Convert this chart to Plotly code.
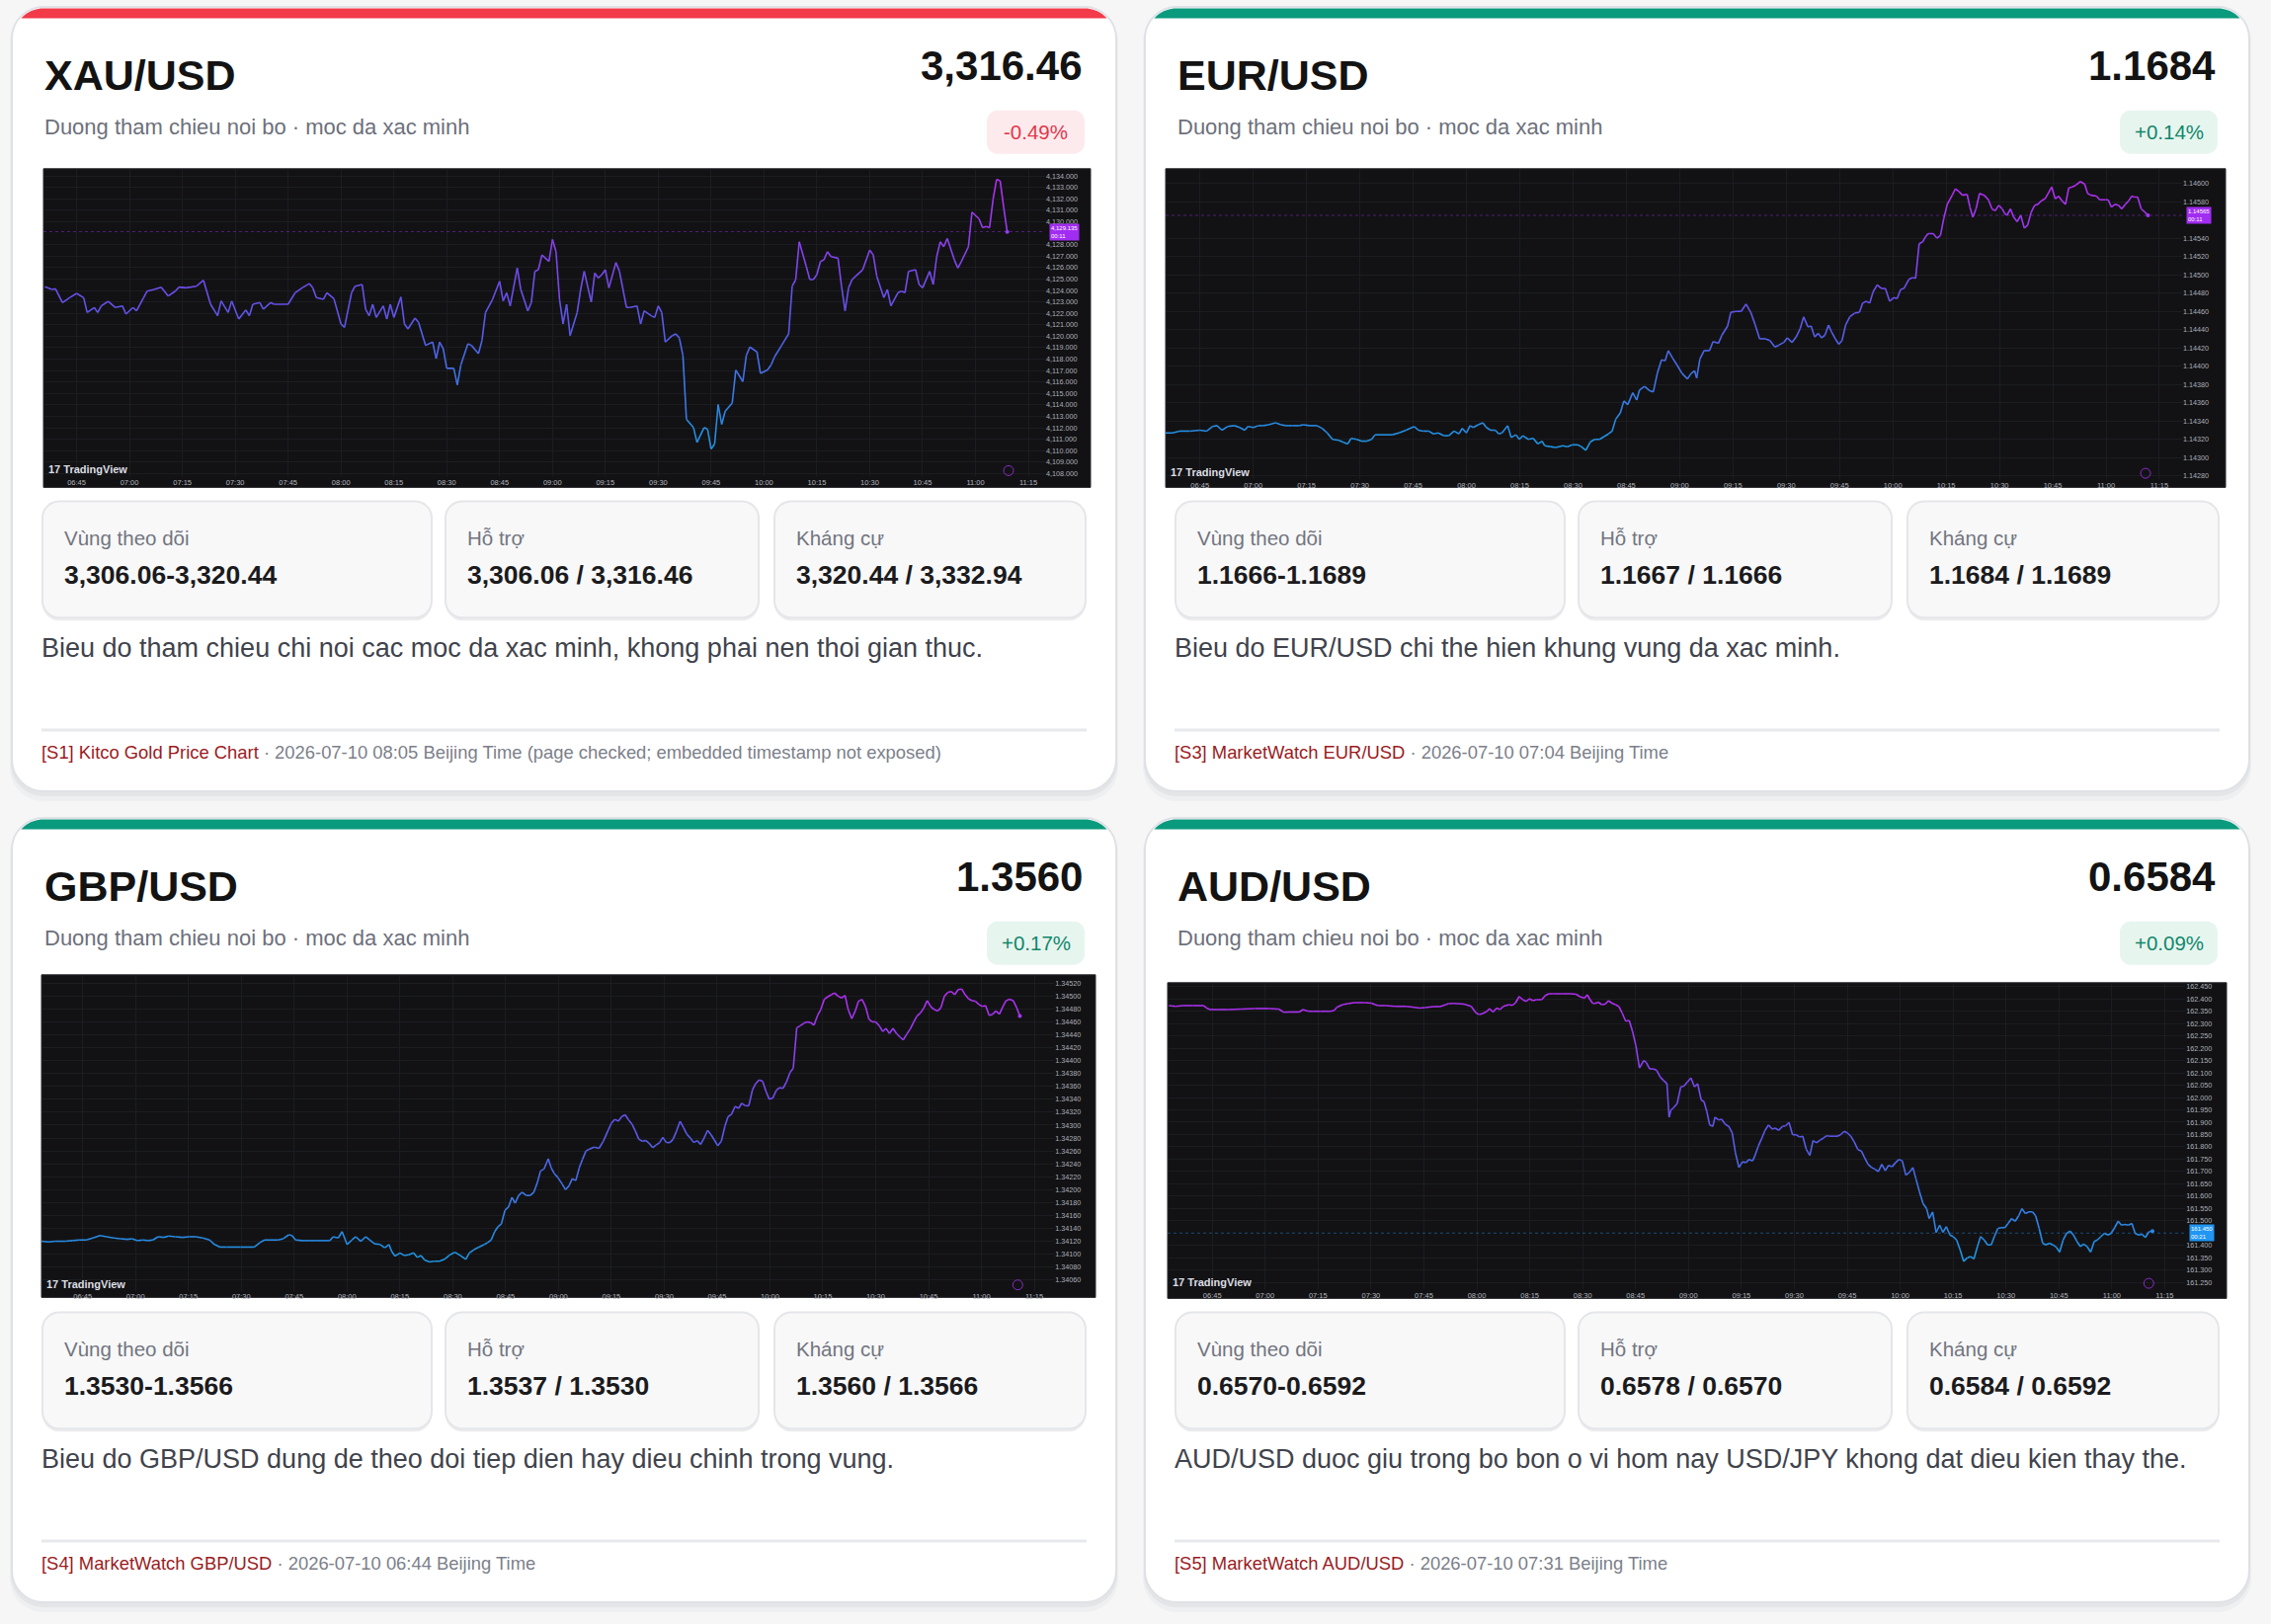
import math
import plotly.graph_objects as go

W, H = 2299, 1644
FONT = "Liberation Sans, Arial, Helvetica, sans-serif"

# ---------------- data ----------------
PAIRS = ["XAU/USD", "EUR/USD", "GBP/USD", "AUD/USD"]
PRICES = ["3,316.46", "1.1684", "1.3560", "0.6584"]
CHANGES = ["-0.49%", "+0.14%", "+0.17%", "+0.09%"]
SUBTITLE = "Duong tham chieu noi bo · moc da xac minh"
BOX_LABELS = ["Vùng theo dõi", "Hỗ trợ", "Kháng cự"]
ZONES = ["3,306.06-3,320.44", "1.1666-1.1689", "1.3530-1.3566", "0.6570-0.6592"]
SUPPORTS = ["3,306.06 / 3,316.46", "1.1667 / 1.1666", "1.3537 / 1.3530", "0.6578 / 0.6570"]
RESISTANCES = ["3,320.44 / 3,332.94", "1.1684 / 1.1689", "1.3560 / 1.3566", "0.6584 / 0.6592"]
NOTES = [
    "Bieu do tham chieu chi noi cac moc da xac minh, khong phai nen thoi gian thuc.",
    "Bieu do EUR/USD chi the hien khung vung da xac minh.",
    "Bieu do GBP/USD dung de theo doi tiep dien hay dieu chinh trong vung.",
    "AUD/USD duoc giu trong bo bon o vi hom nay USD/JPY khong dat dieu kien thay the.",
]
SOURCES = ["[S1] Kitco Gold Price Chart", "[S3] MarketWatch EUR/USD",
           "[S4] MarketWatch GBP/USD", "[S5] MarketWatch AUD/USD"]
STAMPS = ["2026-07-10 08:05 Beijing Time (page checked; embedded timestamp not exposed)",
          "2026-07-10 07:04 Beijing Time", "2026-07-10 06:44 Beijing Time",
          "2026-07-10 07:31 Beijing Time"]
TIME_TICKS = ["06:45", "07:00", "07:15", "07:30", "07:45", "08:00", "08:15", "08:30", "08:45",
              "09:00", "09:15", "09:30", "09:45", "10:00", "10:15", "10:30", "10:45", "11:00", "11:15"]
LAST_LABELS = ["4,129.135", "1.14565", "1.14470", "161.450"]
LAST_VALUES = [4129.135, 1.14565, 1.14470, 161.450]
COUNTDOWNS = ["00:11", "00:11", "00:45", "00:21"]
SERIES_START = ["06:36", "06:35", "06:35", "06:35"]

# (minutes after series start, price)
XAU_PTS = [(0,4124.32),(2,4124.09),(3,4124.14),(5,4122.94),(7,4123.37),(9,4123.74),(11,4123.37),(12,4122.07),(14,4122.51),(15,4122.07),(16,4122.65),(18,4123.05),(20,4122.51),(22,4122.65),(23,4121.93),(25,4122.51),(26,4122.22),(28,4123.37),(29,4123.94),(31,4124.09),(33,4124.29),(35,4123.51),(37,4123.94),(38,4124.29),(40,4124.23),(43,4124.37),(45,4124.89),(47,4122.79),(49,4121.79),(50,4123.08),(52,4122.07),(53,4123.08),(55,4121.50),(57,4122.30),(58,4121.79),(59,4122.79),(61,4122.94),(62,4122.36),(64,4122.94),(65,4122.79),(68,4122.79),(69,4122.79),(71,4123.80),(73,4124.23),(75,4124.60),(76,4124.23),(77,4123.37),(79,4123.22),(80,4123.80),(82,4123.28),(84,4121.07),(85,4120.78),(87,4123.80),(88,4124.37),(90,4124.52),(91,4122.36),(92,4121.79),(93,4122.79),(94,4121.64),(96,4122.65),(97,4121.50),(98,4122.79),(99,4121.64),(101,4123.43),(102,4121.07),(103,4120.64),(105,4121.59),(106,4121.21),(108,4119.20),(110,4119.49),(111,4118.05),(112,4119.49),(113,4118.91),(114,4117.19),(116,4117.19),(117,4115.75),(118,4117.48),(120,4119.34),(121,4119.20),(123,4118.48),(124,4119.63),(125,4122.07),(127,4123.22),(129,4124.80),(130,4123.08),(131,4123.80),(132,4122.65),(134,4125.95),(135,4124.09),(137,4122.22),(138,4122.94),(139,4125.67),(140,4125.81),(141,4127.10),(143,4126.53),(144,4128.45),(145,4127.39),(146,4123.22),(147,4121.07),(148,4122.79),(149,4120.06),(151,4122.07),(152,4124.09),(153,4125.67),(155,4122.99),(156,4125.52),(157,4125.09),(158,4125.38),(159,4125.81),(160,4124.23),(162,4126.44),(163,4125.67),(165,4122.51),(166,4122.51),(168,4122.65),(169,4121.07),(170,4122.22),(172,4121.79),(173,4121.64),(174,4122.65),(175,4122.07),(176,4119.49),(178,4120.06),(179,4120.21),(180,4119.83),(181,4118.34),(182,4112.74),(184,4112.02),(185,4110.72),(187,4112.02),(188,4111.87),(189,4110.15),(190,4110.58),(191,4114.03),(192,4112.30),(193,4113.45),(195,4114.17),(196,4117.05),(198,4116.04),(199,4118.34),(200,4119.06),(202,4118.63),(203,4116.76),(205,4117.05),(206,4117.48),(207,4118.20),(209,4119.20),(211,4120.21),(212,4124.37),(213,4124.95),(214,4128.25),(216,4126.10),(217,4124.95),(218,4124.95),(219,4125.38),(220,4126.53),(221,4126.67),(222,4127.39),(223,4126.96),(225,4126.82),(226,4124.37),(227,4122.22),(228,4124.23),(229,4124.95),(230,4125.24),(232,4125.81),(234,4127.53),(235,4127.10),(236,4125.24),(238,4123.37),(239,4124.09),(240,4122.65),(242,4123.80),(243,4123.94),(244,4123.80),(245,4125.67),(247,4125.81),(248,4124.52),(249,4124.23),(251,4125.67),(252,4124.52),(253,4126.96),(254,4128.25),(255,4127.82),(256,4128.54),(258,4126.67),(259,4125.95),(260,4126.53),(262,4127.82),(263,4130.84),(265,4130.26),(266,4129.49),(267,4129.60),(268,4129.49),(269,4131.99),(270,4133.71),(271,4133.57),(272,4131.27),(273,4129.11)]

EUR_PTS = [(0.3,1.14327),(2.3,1.14327),(4.2,1.14329),(7.1,1.14329),(10.0,1.14330),(11.9,1.14329),(13.5,1.14334),(14.8,1.14335),(16.2,1.14330),(17.7,1.14334),(19.7,1.14335),(21.2,1.14333),(22.6,1.14330),(23.5,1.14334),(25.1,1.14333),(26.4,1.14335),(27.8,1.14335),(29.3,1.14336),(31.3,1.14338),(32.8,1.14336),(34.2,1.14335),(36.1,1.14335),(38.0,1.14335),(39.0,1.14336),(40.9,1.14335),(42.9,1.14335),(44.4,1.14332),(45.8,1.14327),(47.3,1.14320),(49.1,1.14319),(50.2,1.14317),(51.6,1.14315),(52.5,1.14321),(54.1,1.14320),(55.4,1.14318),(57.0,1.14318),(58.3,1.14320),(59.3,1.14325),(61.2,1.14325),(64.1,1.14325),(66.0,1.14327),(68.0,1.14330),(70.3,1.14334),(71.5,1.14330),(72.8,1.14329),(74.4,1.14329),(75.7,1.14326),(77.1,1.14327),(78.6,1.14324),(80.0,1.14324),(81.5,1.14329),(82.9,1.14326),(83.8,1.14332),(85.0,1.14327),(86.0,1.14335),(86.9,1.14333),(88.3,1.14336),(89.6,1.14338),(90.6,1.14333),(91.8,1.14330),(93.1,1.14330),(94.1,1.14326),(95.0,1.14327),(96.6,1.14335),(97.6,1.14322),(98.9,1.14325),(99.9,1.14320),(100.9,1.14324),(102.4,1.14320),(103.8,1.14321),(105.1,1.14315),(106.3,1.14318),(107.0,1.14313),(108.6,1.14312),(110.1,1.14311),(112.1,1.14313),(113.4,1.14312),(114.8,1.14314),(116.3,1.14314),(117.3,1.14312),(118.6,1.14308),(119.8,1.14317),(121.1,1.14320),(122.5,1.14320),(123.7,1.14323),(125.0,1.14326),(126.0,1.14329),(127.0,1.14342),(128.3,1.14349),(129.3,1.14362),(130.4,1.14358),(131.8,1.14371),(132.9,1.14363),(133.7,1.14374),(135.1,1.14378),(136.6,1.14373),(137.6,1.14372),(138.7,1.14392),(139.9,1.14407),(140.9,1.14406),(141.8,1.14417),(143.0,1.14409),(144.3,1.14401),(145.7,1.14392),(147.2,1.14386),(148.2,1.14392),(149.2,1.14395),(149.8,1.14387),(150.7,1.14408),(151.9,1.14417),(153.4,1.14417),(154.4,1.14427),(155.9,1.14425),(156.9,1.14434),(158.5,1.14444),(159.4,1.14459),(160.8,1.14460),(162.3,1.14460),(163.7,1.14468),(165.0,1.14459),(166.2,1.14446),(167.5,1.14430),(169.1,1.14430),(170.4,1.14428),(171.8,1.14421),(172.9,1.14423),(174.3,1.14426),(175.3,1.14431),(176.6,1.14426),(177.8,1.14432),(178.9,1.14441),(179.9,1.14454),(181.1,1.14443),(182.0,1.14444),(183.0,1.14432),(184.0,1.14436),(184.9,1.14431),(185.9,1.14434),(186.9,1.14445),(187.8,1.14437),(188.8,1.14430),(189.8,1.14424),(190.7,1.14428),(191.7,1.14445),(192.9,1.14454),(194.2,1.14458),(195.6,1.14459),(196.5,1.14469),(197.5,1.14471),(198.5,1.14469),(199.4,1.14481),(200.6,1.14489),(201.8,1.14485),(202.9,1.14485),(204.1,1.14471),(205.2,1.14475),(206.2,1.14474),(207.2,1.14484),(208.1,1.14485),(209.5,1.14495),(210.6,1.14497),(211.4,1.14496),(212.4,1.14534),(213.4,1.14536),(214.1,1.14541),(214.9,1.14545),(216.4,1.14545),(217.4,1.14540),(218.4,1.14543),(219.3,1.14561),(220.3,1.14577),(221.7,1.14587),(222.6,1.14594),(223.6,1.14591),(224.6,1.14587),(225.9,1.14588),(226.7,1.14574),(227.5,1.14563),(228.4,1.14572),(229.4,1.14589),(230.7,1.14587),(231.9,1.14582),(232.9,1.14572),(233.8,1.14570),(234.8,1.14576),(235.8,1.14572),(236.5,1.14567),(237.1,1.14565),(238.1,1.14572),(239.0,1.14563),(240.0,1.14558),(241.0,1.14565),(242.0,1.14551),(242.9,1.14554),(243.9,1.14568),(244.9,1.14576),(245.8,1.14577),(246.8,1.14581),(247.8,1.14583),(248.7,1.14589),(249.7,1.14596),(250.7,1.14583),(251.6,1.14586),(252.6,1.14581),(253.6,1.14577),(254.5,1.14595),(255.5,1.14596),(256.5,1.14598),(257.8,1.14602),(259.0,1.14599),(259.8,1.14589),(260.7,1.14587),(262.3,1.14586),(263.2,1.14582),(264.8,1.14582),(265.6,1.14582),(266.5,1.14574),(267.5,1.14577),(268.5,1.14576),(269.4,1.14572),(270.4,1.14577),(271.4,1.14581),(272.2,1.14586),(273.0,1.14585),(273.9,1.14585),(274.9,1.14572),(275.8,1.14569),(276.8,1.14565)]

GBP_PTS = [(-1.7,1.34120),(0.3,1.34119),(2.2,1.34120),(5.1,1.34120),(7.1,1.34121),(9.0,1.34122),(11.0,1.34122),(12.9,1.34125),(14.9,1.34129),(16.8,1.34127),(18.8,1.34125),(20.7,1.34124),(22.7,1.34123),(24.0,1.34124),(25.6,1.34121),(27.1,1.34122),(28.5,1.34121),(29.9,1.34122),(31.4,1.34127),(33.0,1.34126),(34.4,1.34128),(36.3,1.34127),(38.3,1.34126),(40.2,1.34127),(42.1,1.34127),(44.1,1.34125),(46.0,1.34122),(47.4,1.34115),(49.0,1.34111),(50.9,1.34111),(54.8,1.34111),(58.7,1.34111),(60.3,1.34118),(61.6,1.34122),(63.6,1.34122),(65.5,1.34122),(66.9,1.34124),(68.5,1.34130),(69.4,1.34129),(70.4,1.34122),(72.3,1.34121),(74.3,1.34121),(76.2,1.34121),(78.2,1.34121),(80.1,1.34121),(81.1,1.34127),(82.5,1.34125),(83.6,1.34135),(85.0,1.34115),(86.4,1.34122),(87.5,1.34127),(88.9,1.34120),(90.3,1.34127),(91.4,1.34122),(92.8,1.34116),(94.4,1.34115),(95.7,1.34110),(96.9,1.34115),(97.7,1.34104),(98.6,1.34097),(100.0,1.34102),(101.2,1.34098),(102.5,1.34099),(103.9,1.34102),(104.9,1.34095),(106.0,1.34098),(107.0,1.34091),(108.4,1.34088),(109.7,1.34089),(111.3,1.34089),(112.9,1.34093),(114.2,1.34099),(115.6,1.34103),(117.1,1.34098),(118.7,1.34092),(119.7,1.34102),(121.0,1.34107),(122.4,1.34111),(124.0,1.34115),(124.9,1.34118),(125.9,1.34122),(126.9,1.34135),(127.9,1.34143),(128.8,1.34147),(129.8,1.34168),(130.8,1.34173),(131.8,1.34188),(132.7,1.34179),(133.7,1.34191),(134.7,1.34196),(135.8,1.34191),(137.0,1.34191),(138.0,1.34196),(139.0,1.34211),(139.9,1.34229),(140.9,1.34232),(142.1,1.34248),(142.9,1.34234),(143.8,1.34225),(144.8,1.34219),(146.0,1.34209),(147.0,1.34200),(148.0,1.34206),(148.9,1.34217),(149.9,1.34214),(150.9,1.34234),(151.8,1.34247),(152.8,1.34260),(153.8,1.34263),(155.1,1.34266),(156.5,1.34264),(157.7,1.34275),(159.0,1.34291),(160.0,1.34303),(161.0,1.34309),(162.0,1.34306),(162.9,1.34313),(163.9,1.34316),(164.9,1.34308),(165.9,1.34301),(166.8,1.34291),(167.8,1.34278),(168.8,1.34275),(169.8,1.34276),(170.7,1.34272),(171.7,1.34265),(172.7,1.34269),(173.7,1.34273),(174.6,1.34281),(175.6,1.34273),(176.6,1.34273),(177.5,1.34278),(178.5,1.34291),(179.5,1.34306),(180.5,1.34296),(181.4,1.34286),(182.4,1.34280),(183.4,1.34273),(184.4,1.34276),(185.3,1.34270),(186.3,1.34280),(187.3,1.34292),(188.3,1.34285),(189.2,1.34277),(190.2,1.34268),(191.2,1.34275),(192.2,1.34298),(193.1,1.34313),(194.1,1.34317),(195.1,1.34329),(196.1,1.34326),(197.0,1.34334),(198.0,1.34330),(199.0,1.34330),(200.0,1.34354),(200.9,1.34364),(201.9,1.34370),(202.9,1.34368),(203.9,1.34352),(204.8,1.34340),(205.8,1.34342),(206.8,1.34354),(207.7,1.34358),(208.7,1.34357),(209.7,1.34367),(210.7,1.34382),(211.6,1.34388),(212.6,1.34451),(213.6,1.34454),(214.6,1.34458),(215.5,1.34460),(216.5,1.34459),(217.5,1.34455),(218.5,1.34470),(219.4,1.34479),(220.4,1.34495),(221.4,1.34499),(222.4,1.34502),(223.3,1.34505),(224.3,1.34500),(225.3,1.34497),(226.3,1.34501),(227.2,1.34479),(228.2,1.34465),(229.2,1.34477),(230.1,1.34492),(231.1,1.34495),(232.1,1.34484),(233.1,1.34464),(234.0,1.34460),(235.0,1.34460),(236.0,1.34454),(237.0,1.34445),(237.9,1.34450),(238.9,1.34442),(239.9,1.34450),(240.9,1.34442),(241.8,1.34437),(242.8,1.34432),(243.8,1.34441),(244.8,1.34449),(245.7,1.34459),(246.7,1.34469),(247.7,1.34474),(248.7,1.34482),(249.6,1.34493),(250.6,1.34484),(251.6,1.34479),(252.6,1.34477),(253.5,1.34482),(254.5,1.34500),(255.5,1.34506),(256.5,1.34507),(257.4,1.34502),(258.4,1.34510),(259.4,1.34511),(260.4,1.34502),(261.3,1.34496),(262.3,1.34493),(263.3,1.34492),(264.3,1.34487),(265.2,1.34484),(266.2,1.34485),(267.2,1.34470),(268.2,1.34472),(269.1,1.34477),(270.1,1.34472),(271.1,1.34484),(272.0,1.34493),(273.0,1.34495),(274.0,1.34493),(275.0,1.34482),(275.9,1.34469)]

AUD_PTS = [(-2.3,162.373),(-0.3,162.370),(1.6,162.373),(4.5,162.373),(7.5,162.373),(8.4,162.363),(9.4,162.357),(11.4,162.357),(14.3,162.357),(18.2,162.359),(22.1,162.361),(26.0,162.361),(28.9,162.359),(30.2,162.346),(31.8,162.347),(34.7,162.347),(35.7,162.357),(37.3,162.350),(38.6,162.350),(40.6,162.350),(43.5,162.350),(44.5,162.353),(45.4,162.367),(47.0,162.377),(48.4,162.381),(50.3,162.385),(53.2,162.385),(55.2,162.383),(56.1,162.377),(57.1,162.373),(59.1,162.373),(62.0,162.370),(64.9,162.370),(66.8,162.367),(68.8,162.363),(70.3,162.365),(72.7,162.369),(74.6,162.369),(76.2,162.377),(77.0,162.381),(78.5,162.382),(81.4,162.379),(83.4,162.370),(84.8,162.343),(85.7,162.337),(86.7,162.341),(87.9,162.350),(88.6,162.361),(89.6,162.347),(90.6,162.363),(91.6,162.357),(92.5,162.370),(94.1,162.377),(95.1,162.374),(96.0,162.385),(97.0,162.410),(98.0,162.397),(99.0,162.390),(99.9,162.401),(100.9,162.393),(101.9,162.397),(103.4,162.397),(104.4,162.414),(105.4,162.421),(106.7,162.421),(109.3,162.421),(111.6,162.421),(113.2,162.419),(114.1,162.410),(115.5,162.403),(116.3,162.417),(117.1,162.397),(117.8,162.383),(118.4,162.381),(119.4,162.387),(120.4,162.377),(121.4,162.379),(122.3,162.393),(123.3,162.383),(124.3,162.377),(125.2,162.370),(126.2,162.343),(127.2,162.310),(128.2,162.313),(129.1,162.270),(130.1,162.210),(131.1,162.120),(132.3,162.150),(133.0,162.143),(134.0,162.116),(135.0,162.116),(136.0,162.110),(137.0,162.083),(137.9,162.070),(138.9,162.056),(139.5,161.920),(140.0,161.949),(140.8,161.959),(141.8,161.976),(142.8,162.043),(143.7,162.046),(144.7,162.063),(145.7,162.079),(146.7,162.043),(147.6,162.056),(148.6,161.990),(149.4,161.983),(150.2,161.943),(151.0,161.889),(151.9,161.883),(152.5,161.920),(153.5,161.909),(154.4,161.912),(155.4,161.892),(156.4,161.883),(157.4,161.856),(158.3,161.776),(159.3,161.716),(160.3,161.739),(161.3,161.736),(162.2,161.749),(163.2,161.743),(163.8,161.763),(164.8,161.803),(165.7,161.832),(166.7,161.867),(167.7,161.889),(168.7,161.872),(169.6,161.876),(170.6,161.867),(171.6,161.883),(172.5,161.885),(173.5,161.899),(174.5,161.849),(175.5,161.849),(176.4,161.840),(177.4,161.843),(178.4,161.789),(179.4,161.765),(180.3,161.825),(181.3,161.816),(182.3,161.827),(183.3,161.836),(184.2,161.845),(185.2,161.843),(186.2,161.843),(187.2,161.843),(188.1,161.849),(189.1,161.863),(190.1,161.856),(191.0,161.843),(192.0,161.819),(193.0,161.789),(194.0,161.783),(194.9,161.756),(195.9,161.729),(196.9,161.716),(197.9,161.709),(198.8,161.699),(199.8,161.729),(200.8,161.703),(201.7,161.725),(202.7,161.719),(203.7,161.736),(204.7,161.749),(205.6,161.743),(206.6,161.685),(207.6,161.696),(208.6,161.716),(209.5,161.669),(210.5,161.616),(211.5,161.569),(212.5,161.549),(213.2,161.509),(214.2,161.536),(215.2,161.452),(216.2,161.482),(217.1,161.453),(218.1,161.476),(219.1,161.442),(220.0,161.436),(221.0,161.422),(222.0,161.382),(223.0,161.335),(224.0,161.349),(224.9,161.355),(225.9,161.345),(226.9,161.395),(227.8,161.436),(228.8,161.422),(229.8,161.402),(230.8,161.402),(231.7,161.436),(232.7,161.469),(233.7,161.472),(234.7,161.472),(235.6,161.489),(236.6,161.509),(237.6,161.498),(238.6,161.520),(239.5,161.549),(240.5,161.529),(241.5,161.536),(242.5,161.536),(243.4,161.520),(244.4,161.469),(245.4,161.409),(246.3,161.402),(247.3,161.409),(248.3,161.402),(249.3,161.392),(250.2,161.373),(251.2,161.422),(252.2,161.449),(253.2,161.458),(254.1,161.442),(255.1,161.416),(256.1,161.395),(257.0,161.405),(258.0,161.395),(259.0,161.373),(260.0,161.416),(260.9,161.422),(261.9,161.436),(262.9,161.449),(263.9,161.442),(264.8,161.449),(265.8,161.472),(266.8,161.498),(267.7,161.482),(268.7,161.485),(269.7,161.482),(270.7,161.489),(271.6,161.449),(272.6,161.442),(273.6,161.445),(274.5,161.432),(275.5,161.455),(276.5,161.458)]

SERIES = [XAU_PTS, EUR_PTS, GBP_PTS, AUD_PTS]

# ---------------- layout geometry (pixels) ----------------
CARD = (12, 7, 1130, 802)
DX = [0, 1147, 0, 1147]
DY = [0, 0, 822, 822]
BAR_COLORS = ["#f23a48", "#0a9a7d", "#0a9a7d", "#0a9a7d"]
BADGE_BG = ["#fdeaed", "#e7f5ef", "#e7f5ef", "#e7f5ef"]
BADGE_FG = ["#e2374b", "#11876a", "#11876a", "#11876a"]
# image rect, plot rect (x0, y0, x1, y1), x range (minutes of day), y range, dtick, format
CHARTS = [
    dict(img=(44, 171, 1104, 494), plot=(44, 172, 1058, 483), xr=(395.6, 679.75), yr=(4107.74, 4134.55), dtick=1.0, fmt=",.3f", tag="#a12cf2"),
    dict(img=(1180, 171, 2253, 494), plot=(1180, 171, 2209, 485.7), xr=(395.34, 681.4), yr=(1.142764, 1.14616), dtick=0.0002, fmt=".5f", tag="#a12cf2"),
    dict(img=(42, 988, 1109, 1315), plot=(42, 988, 1067.3, 1308.3), xr=(393.31, 680.67), yr=(1.340432, 1.34533), dtick=0.0002, fmt=".5f", tag="#a12cf2"),
    dict(img=(1182, 996, 2254, 1316), plot=(1182, 996, 2212.3, 1306.7), xr=(392.35, 680.84), yr=(161.222, 162.466), dtick=0.05, fmt=".3f", tag="#2196f3"),
]
GRAD = [(0.0, (30, 150, 225)), (0.5, (94, 85, 233)), (1.0, (180, 45, 240))]


def clock(s):
    h, m = s.split(":")
    return int(h) * 60 + int(m)


def grad_color(t):
    t = max(0.0, min(1.0, t))
    for (a, ca), (b, cb) in zip(GRAD[:-1], GRAD[1:]):
        if t <= b:
            f = (t - a) / (b - a)
            c = [round(ca[k] + (cb[k] - ca[k]) * f) for k in range(3)]
            return "rgb(%d,%d,%d)" % tuple(c)
    return "rgb(%d,%d,%d)" % GRAD[-1][1]


def P(x, y):
    return f"{x / W:.6f},{1 - y / H:.6f}"


def rrect(x0, y0, x1, y1, r):
    c = 0.5523 * r
    return (f"M{P(x0 + r, y0)} L{P(x1 - r, y0)} C{P(x1 - r + c, y0)} {P(x1, y0 + r - c)} {P(x1, y0 + r)} "
            f"L{P(x1, y1 - r)} C{P(x1, y1 - r + c)} {P(x1 - r + c, y1)} {P(x1 - r, y1)} "
            f"L{P(x0 + r, y1)} C{P(x0 + r - c, y1)} {P(x0, y1 - r + c)} {P(x0, y1 - r)} "
            f"L{P(x0, y0 + r)} C{P(x0, y0 + r - c)} {P(x0 + r - c, y0)} {P(x0 + r, y0)} Z")


def top_bar(x0, y0, x1, h, r):
    t0 = math.asin((r - h) / r)
    n = 10
    left, right = [], []
    for k in range(n + 1):
        t = t0 + (math.pi / 2 - t0) * k / n
        left.append((x0 + r - r * math.cos(t), y0 + r - r * math.sin(t)))
        right.append((x1 - r + r * math.cos(t), y0 + r - r * math.sin(t)))
    pts = left + right[::-1]
    return "M" + " L".join(P(x, y) for x, y in pts) + " Z"


shapes, annotations = [], []


def add_path(path, fill, line=None, width=0, layer="below"):
    shapes.append(dict(type="path", path=path, xref="paper", yref="paper", fillcolor=fill,
                       line=dict(color=line or fill, width=width), layer=layer))


def text(x, y, s, size, color, xanchor="left", yanchor="middle"):
    annotations.append(dict(x=x / W, y=1 - y / H, xref="paper", yref="paper", text=s, showarrow=False,
                            xanchor=xanchor, yanchor=yanchor, align="left",
                            font=dict(size=size, color=color, family=FONT)))


fig = go.Figure()

for i in range(4):
    dx, dy = DX[i], DY[i]
    x0, y0, x1, y1 = CARD[0] + dx, CARD[1] + dy, CARD[2] + dx, CARD[3] + dy
    # shadow + card
    add_path(rrect(x0 - 2, y0 + 2, x1 + 2, y1 + 10, 34), "rgba(40,50,70,0.035)")
    add_path(rrect(x0 - 1, y0 + 1, x1 + 1, y1 + 5, 33), "rgba(40,50,70,0.05)")
    add_path(rrect(x0, y0, x1, y1, 32), "#ffffff", "#dfe1e6", 2)
    add_path(top_bar(x0 + 1.5, y0 + 1.5, x1 - 1.5, 10, 30.5), BAR_COLORS[i])
    # header
    text(x0 + 31, y0 + 69, f"<b>{PAIRS[i]}</b>", 43, "#131313")
    text(x1 - 32, y0 + 60, f"<b>{PRICES[i]}</b>", 42, "#131313", xanchor="right")
    text(x0 + 31, y0 + 122, SUBTITLE, 22, "#6d707b")
    add_path(rrect(x0 + 987, y0 + 105, x0 + 1086, y0 + 149, 11), BADGE_BG[i])
    text(x0 + 1036.5, y0 + 127, CHANGES[i], 20.5, BADGE_FG[i], xanchor="center")
    # boxes
    boxes = [(x0 + 31, x0 + 425), (x0 + 439, x0 + 756), (x0 + 772, x0 + 1087)]
    vals = [ZONES[i], SUPPORTS[i], RESISTANCES[i]]
    for (bx0, bx1), lab, val in zip(boxes, BOX_LABELS, vals):
        add_path(rrect(bx0, y0 + 503, bx1, y0 + 622, 17), "#ececef")
        add_path(rrect(bx0, y0 + 501, bx1, y0 + 619, 17), "#f8f8f9", "#e5e6e9", 2)
        text(bx0 + 20, y0 + 538, lab, 20.5, "#72757f")
        text(bx0 + 20, y0 + 576, f"<b>{val}</b>", 26.5, "#1b1b1d")
    text(x0 + 28, y0 + 650, NOTES[i], 27, "#40434c")
    shapes.append(dict(type="line", xref="paper", yref="paper", x0=(x0 + 30) / W, x1=(x0 + 1088) / W,
                       y0=1 - (y0 + 733) / H, y1=1 - (y0 + 733) / H, line=dict(color="#e8e9ec", width=3),
                       layer="below"))
    text(x0 + 28, y0 + 755,
         f"<span style='color:#9b1b1e'>{SOURCES[i]}</span> · {STAMPS[i]}", 18.4, "#7c808a")

# charts
tickvals = [clock(t) for t in TIME_TICKS]
for i, (ch, pts) in enumerate(zip(CHARTS, SERIES)):
    n = i + 1
    xa = "x" if n == 1 else f"x{n}"
    ya = "y" if n == 1 else f"y{n}"
    ix0, iy0, ix1, iy1 = ch["img"]
    px0, py0, px1, py1 = ch["plot"]
    shapes.append(dict(type="rect", xref="paper", yref="paper", x0=ix0 / W, x1=ix1 / W,
                       y0=1 - iy1 / H, y1=1 - iy0 / H, fillcolor="#121214",
                       line=dict(color="#2b2b30", width=1), layer="below"))
    start = clock(SERIES_START[i])
    xs = [start + t for t, _ in pts]
    ys = [v for _, v in pts]
    vmin, vmax = min(ys), max(ys)
    NB = 28
    bx = [[] for _ in range(NB)]
    by = [[] for _ in range(NB)]
    for k in range(len(xs) - 1):
        f = ((ys[k] + ys[k + 1]) / 2 - vmin) / (vmax - vmin)
        b = min(NB - 1, int(f * NB))
        bx[b] += [xs[k], xs[k + 1], None]
        by[b] += [ys[k], ys[k + 1], None]
    for b in range(NB):
        if bx[b]:
            fig.add_trace(go.Scatter(x=bx[b], y=by[b], mode="lines", xaxis=xa, yaxis=ya,
                                     line=dict(color=grad_color((b + 0.5) / NB), width=1.6),
                                     hoverinfo="skip", showlegend=False))
    end_col = grad_color((ys[-1] - vmin) / (vmax - vmin))
    fig.add_trace(go.Scatter(x=[xs[-1]], y=[ys[-1]], mode="markers", xaxis=xa, yaxis=ya,
                             marker=dict(color=end_col, size=4), hoverinfo="skip", showlegend=False))
    # price ticks, leaving the one hidden under the price tag
    d = ch["dtick"]
    k0 = math.ceil(ch["yr"][0] / d - 1e-9)
    k1 = math.floor(ch["yr"][1] / d + 1e-9)
    yt = [round(k * d, 6) for k in range(k0, k1 + 1) if abs(k * d - LAST_VALUES[i]) > 0.6 * d]
    # dotted last-price line
    shapes.append(dict(type="line", xref=xa, yref=ya, x0=ch["xr"][0], x1=ch["xr"][1],
                       y0=LAST_VALUES[i], y1=LAST_VALUES[i],
                       line=dict(color=ch["tag"], width=1, dash="dot"), opacity=0.45, layer="between"))
    # price tag on axis
    annotations.append(dict(x=(px1 + 4) / W, y=LAST_VALUES[i], xref="paper", yref=ya,
                            text=f"{LAST_LABELS[i]}<br>{COUNTDOWNS[i]}", showarrow=False,
                            xanchor="left", yanchor="middle", align="left", bgcolor=ch["tag"],
                            borderpad=1, font=dict(size=6, color="#ffffff", family=FONT)))
    # logo + icon
    text(px0 + 3, py1 - 7, "<b>17 TradingView</b>", 11, "#dcdde2")
    shapes.append(dict(type="circle", xref="paper", yref="paper",
                       x0=(px1 - 42) / W, x1=(px1 - 32) / W, y0=1 - (py1 - 1) / H, y1=1 - (py1 - 11) / H,
                       line=dict(color="#8a2bc8", width=1), layer="above"))
    fig.update_layout(**{
        ("xaxis" if n == 1 else f"xaxis{n}"): dict(
            domain=[px0 / W, px1 / W], anchor=ya, range=list(ch["xr"]), tickvals=tickvals,
            ticktext=TIME_TICKS, showgrid=True, gridcolor="#1c1d21", gridwidth=1, zeroline=False,
            showline=False, ticks="", tickfont=dict(size=7.5, color="#b3b6be", family=FONT),
            fixedrange=True),
        ("yaxis" if n == 1 else f"yaxis{n}"): dict(
            domain=[1 - py1 / H, 1 - py0 / H], anchor=xa, side="right", range=list(ch["yr"]),
            tickvals=yt, tickformat=ch["fmt"], showgrid=True, gridcolor="#1c1d21",
            zeroline=False, showline=False, ticks="", tickfont=dict(size=7.2, color="#adb0b8", family=FONT),
            fixedrange=True),
    })

fig.update_layout(width=W, height=H, margin=dict(l=0, r=0, t=0, b=0), paper_bgcolor="#f6f6f7",
                  plot_bgcolor="#121214", showlegend=False, shapes=shapes, annotations=annotations,
                  font=dict(family=FONT), hovermode=False)

fig.write_html("out.html", config={"displayModeBar": False, "staticPlot": True},
               post_script="document.body.style.margin='0px';document.body.style.overflow='hidden';")
